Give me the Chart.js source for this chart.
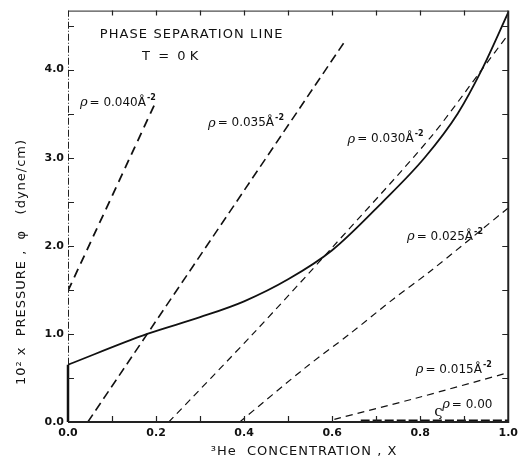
<!DOCTYPE html>
<html>
<head>
<meta charset="utf-8">
<script src="https://cdn.jsdelivr.net/npm/chart.js@4"></script>
<style>
  html, body { margin: 0; padding: 0; background: #fff; }
</style>
</head>
<body>
<canvas id="chart" width="523" height="464"></canvas>
<script>
// phase separation line (solid)
const phaseX = [0, 0.18, 0.3, 0.4, 0.5, 0.6, 0.715, 0.81, 0.885, 0.94, 1.0];
const phaseY = [0.65, 1.0, 1.19, 1.37, 1.62, 1.95, 2.5, 3.0, 3.5, 4.0, 4.65];
// solid piece running up the left edge
const edgeX = [0, 0];
const edgeY = [0, 0.65];

// constant density lines (dashed)
const rho040X = [0, 0.2];
const rho040Y = [1.49, 3.64];
const rho035X = [0.045, 0.63];
const rho035Y = [0, 4.33];
const rho030X = [0.229, 0.42, 0.6, 0.82, 0.94, 1.0];
const rho030Y = [0, 1.0, 1.98, 3.21, 4.0, 4.4];
const rho025X = [0.39, 0.54, 0.64, 0.74, 0.82, 1.0];
const rho025Y = [0, 0.62, 1.0, 1.4, 1.7, 2.43];
const rho015X = [0.605, 0.79, 1.0];
const rho015Y = [0.03, 0.27, 0.56];
const rho000X = [0.665, 1.0];
const rho000Y = [0.01, 0.01];

// axis ticks
const xTickStep = 0.1;
const yTickStep = 0.5;
const xMax = 1.0;
const yMax = 4.67;

function pts(xs, ys) {
  return xs.map(function (x, i) { return { x: x, y: ys[i] }; });
}

function dashed(data, width, dash) {
  return {
    data: data,
    showLine: true,
    borderColor: "#111",
    borderWidth: width,
    borderDash: dash,
    pointRadius: 0,
    tension: 0.3,
    fill: false,
  };
}

// text drawn on the plot, placed in data units
const notes = [
  { val: "0.040", x: 0.027, y: 3.62 },
  { val: "0.035", x: 0.318, y: 3.39 },
  { val: "0.030", x: 0.635, y: 3.21 },
  { val: "0.025", x: 0.77, y: 2.1 },
  { val: "0.015", x: 0.79, y: 0.59 },
];

function drawRho(ctx, val, px, py, sup) {
  ctx.textBaseline = "middle";
  ctx.textAlign = "left";
  ctx.font = "italic 13px 'DejaVu Serif'";
  ctx.fillText("ρ", px, py);
  let x = px + ctx.measureText("ρ").width + 2;
  ctx.font = "12px 'DejaVu Sans'";
  let s = "= " + val + (sup ? "Å" : "");
  ctx.fillText(s, x, py);
  if (!sup) return;
  x += ctx.measureText(s).width + 1;
  ctx.font = "bold 8px 'DejaVu Sans'";
  ctx.fillText("-2", x, py - 5);
}

const framePlugin = {
  id: "frame",
  afterDraw: function (chart) {
    const ctx = chart.ctx;
    const a = chart.chartArea;
    const xs = chart.scales.x;
    const ys = chart.scales.y;
    ctx.save();
    ctx.strokeStyle = "#222";

    // box
    ctx.lineWidth = 1;
    ctx.setLineDash([7, 2, 1, 2]);
    ctx.beginPath();
    ctx.moveTo(a.left + 0.5, ys.getPixelForValue(0.65));
    ctx.lineTo(a.left + 0.5, a.top);
    ctx.stroke();
    ctx.setLineDash([]);
    ctx.beginPath();
    ctx.moveTo(a.left, a.top + 0.5);
    ctx.lineTo(a.right, a.top + 0.5);
    ctx.stroke();
    ctx.lineWidth = 2;
    ctx.beginPath();
    ctx.moveTo(a.left, a.bottom);
    ctx.lineTo(a.right, a.bottom);
    ctx.lineTo(a.right, a.top);
    ctx.stroke();

    // inward ticks
    ctx.lineWidth = 1.2;
    ctx.beginPath();
    for (let v = xTickStep; v < xMax - 0.01; v += xTickStep) {
      const p = Math.round(xs.getPixelForValue(v)) + 0.5;
      ctx.moveTo(p, a.bottom);
      ctx.lineTo(p, a.bottom - 6);
      ctx.moveTo(p, a.top);
      ctx.lineTo(p, a.top + 5);
    }
    for (let v = yTickStep; v < yMax - 0.01; v += yTickStep) {
      const p = Math.round(ys.getPixelForValue(v)) + 0.5;
      ctx.moveTo(a.left, p);
      ctx.lineTo(a.left + 6, p);
      ctx.moveTo(a.right, p);
      ctx.lineTo(a.right - 6, p);
    }
    ctx.stroke();

    // titles
    ctx.fillStyle = "#111";
    ctx.font = "13px 'DejaVu Sans'";
    ctx.textAlign = "left";
    ctx.textBaseline = "middle";
    ctx.letterSpacing = "1.1px";
    ctx.fillText("PHASE SEPARATION LINE", xs.getPixelForValue(0.072), ys.getPixelForValue(4.4));
    ctx.letterSpacing = "0px";
    ctx.fillText("T  =  0 K", xs.getPixelForValue(0.168), ys.getPixelForValue(4.15));

    notes.forEach(function (n) {
      drawRho(ctx, n.val, xs.getPixelForValue(n.x), ys.getPixelForValue(n.y), true);
    });

    // rho = 0.00 label with its little leader
    const zx = xs.getPixelForValue(0.85);
    const zy = ys.getPixelForValue(0.2);
    drawRho(ctx, "0.00", zx, zy, false);
    ctx.font = "15px 'DejaVu Serif'";
    ctx.fillText("ς", zx - 8, zy + 8);

    // axis titles
    ctx.font = "13px 'DejaVu Sans'";
    ctx.letterSpacing = "1px";
    ctx.textAlign = "center";
    ctx.fillText("³He  CONCENTRATION , X", 304, 452);
    ctx.save();
    ctx.translate(22, 262);
    ctx.rotate(-Math.PI / 2);
    ctx.fillText("10² x  PRESSURE ,  φ   (dyne/cm)", 0, 0);
    ctx.restore();
    ctx.restore();
  },
};

new Chart(document.getElementById("chart"), {
  type: "scatter",
  data: {
    datasets: [
      { data: pts(phaseX, phaseY), showLine: true, borderColor: "#111", borderWidth: 1.8, pointRadius: 0, cubicInterpolationMode: "monotone" },
      { data: pts(edgeX, edgeY), showLine: true, borderColor: "#111", borderWidth: 2.5, pointRadius: 0, clip: false },
      dashed(pts(rho040X, rho040Y), 1.8, [9, 6]),
      dashed(pts(rho035X, rho035Y), 1.6, [9, 5]),
      dashed(pts(rho030X, rho030Y), 1.2, [7, 5]),
      dashed(pts(rho025X, rho025Y), 1.2, [7, 5]),
      dashed(pts(rho015X, rho015Y), 1.2, [7, 5]),
      dashed(pts(rho000X, rho000Y), 3, [9, 3]),
    ],
  },
  options: {
    responsive: false,
    animation: false,
    layout: { padding: { top: 7, right: 9, left: 0, bottom: 0 } },
    plugins: { legend: { display: false }, tooltip: { enabled: false } },
    scales: {
      x: {
        type: "linear",
        min: 0,
        max: xMax,
        grid: { display: false, drawTicks: false },
        border: { display: false },
        afterFit: function (scale) { scale.height = 42; },
        ticks: {
          stepSize: xTickStep,
          autoSkip: false,
          maxRotation: 0,
          padding: 5,
          color: "#111",
          font: { family: "'DejaVu Sans'", size: 11, weight: "bold" },
          callback: function (v) {
            return Math.abs(v * 5 - Math.round(v * 5)) < 1e-6 ? v.toFixed(1) : "";
          },
        },
      },
      y: {
        type: "linear",
        min: 0,
        max: yMax,
        grid: { display: false, drawTicks: false },
        border: { display: false },
        afterFit: function (scale) { scale.width = 68; },
        ticks: {
          stepSize: yTickStep,
          autoSkip: false,
          padding: 4,
          color: "#111",
          font: { family: "'DejaVu Sans'", size: 11, weight: "bold" },
          callback: function (v) {
            return Math.abs(v - Math.round(v)) < 1e-6 ? v.toFixed(1) : "";
          },
        },
      },
    },
  },
  plugins: [framePlugin],
});
</script>
</body>
</html>
